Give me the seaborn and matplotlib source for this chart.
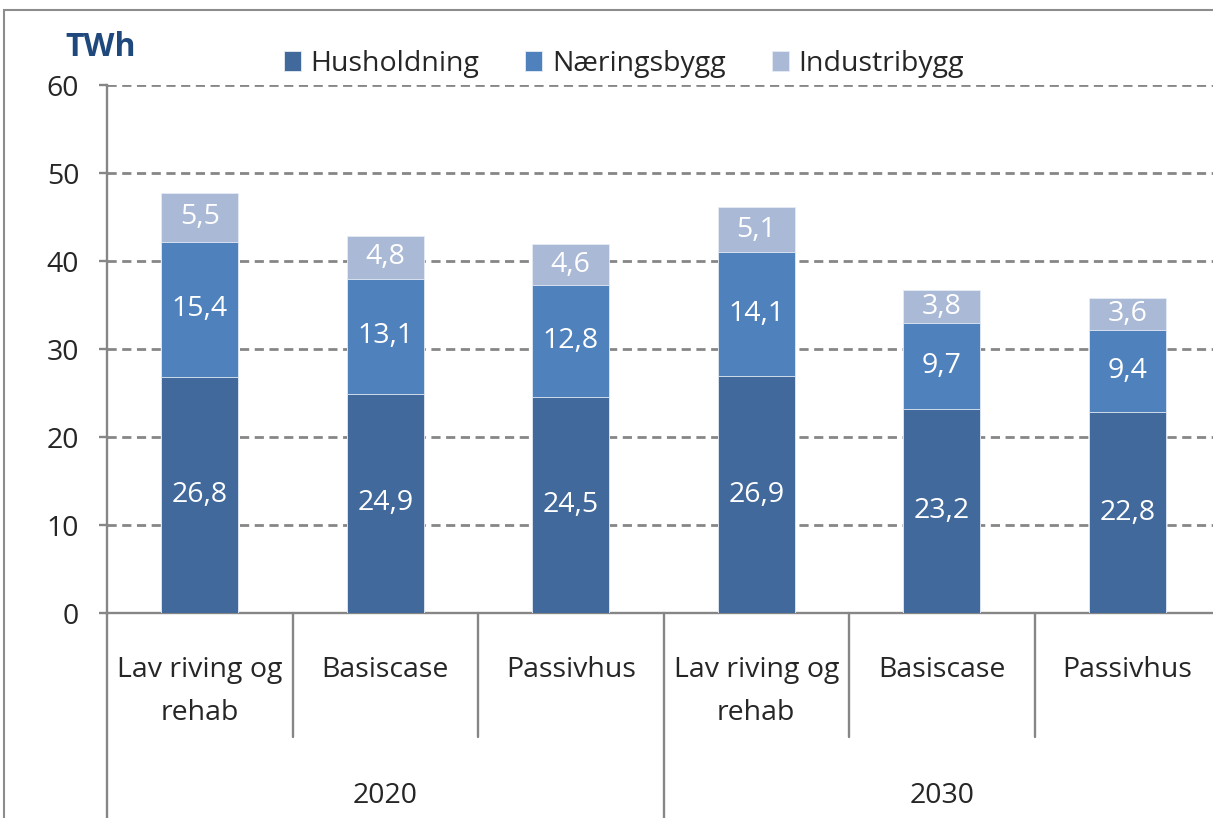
import matplotlib
matplotlib.use("Agg")
import matplotlib.pyplot as plt
from matplotlib.patches import Rectangle
import numpy as np
import pandas as pd
import seaborn as sns

# ---- data ----
years = ["2020", "2030"]
scenarios = ["Lav riving og\nrehab", "Basiscase", "Passivhus"]
husholdning = [26.8, 24.9, 24.5, 26.9, 23.2, 22.8]
naeringsbygg = [15.4, 13.1, 12.8, 14.1, 9.7, 9.4]
industribygg = [5.5, 4.8, 4.6, 5.1, 3.8, 3.6]
series_names = ["Husholdning", "Næringsbygg", "Industribygg"]
colors = ["#41699B", "#4F81BD", "#AAB9D6"]
y_ticks = [0, 10, 20, 30, 40, 50, 60]
unit_label = "TWh"

sns.set_style("white")
plt.rcParams["font.family"] = ["Open Sans", "DejaVu Sans"]

FS = 20.5

ids = [f"{y}|{s}" for y in years for s in scenarios]
df = pd.DataFrame({
    "id": ids,
    "hus": husholdning,
    "nae": naeringsbygg,
    "ind": industribygg,
})
df["c1"] = df["hus"]
df["c2"] = df["hus"] + df["nae"]
df["c3"] = df["c2"] + df["ind"]

W, H = 1213, 818
fig = plt.figure(figsize=(W / 100, H / 100), dpi=100)
ax_left, ax_right = 107, 1220
ax_top, ax_bot = 85, 613
ax = fig.add_axes([ax_left / W, 1 - ax_bot / H, (ax_right - ax_left) / W, (ax_bot - ax_top) / H])

bw = 0.415
for col, name, c in [("c3", series_names[2], colors[2]),
                     ("c2", series_names[1], colors[1]),
                     ("c1", series_names[0], colors[0])]:
    sns.barplot(data=df, x="id", y=col, order=ids, color=c, width=bw,
                errorbar=None, edgecolor="#E6ECF5", linewidth=0.6,
                saturation=1, label=name, ax=ax, zorder=3)

h, l = ax.get_legend_handles_labels()
if ax.get_legend() is not None:
    ax.get_legend().remove()

ax.set_xlim(-0.5, len(ids) - 0.5)
ax.set_ylim(0, 60)
ax.set_yticks(y_ticks)
ax.set_yticklabels([str(t) for t in y_ticks])
ax.set_xticks([])
ax.set_xlabel("")
ax.set_ylabel("")

gray = "#868686"
for t in y_ticks[1:]:
    ax.axhline(t, color=gray, lw=2.0, ls=(0, (3.3, 2.0)), zorder=1)

for s in ["top", "right"]:
    ax.spines[s].set_visible(False)
for s in ["left", "bottom"]:
    ax.spines[s].set_color(gray)
    ax.spines[s].set_linewidth(1.7)
ax.tick_params(axis="y", direction="out", length=6, width=1.7, color=gray,
               pad=14, labelsize=FS, left=True)

# data labels
for i in range(len(ids)):
    segs = [(0, husholdning[i]),
            (husholdning[i], naeringsbygg[i]),
            (husholdning[i] + naeringsbygg[i], industribygg[i])]
    for b, v in segs:
        ax.text(i, b + v / 2, f"{v:.1f}".replace(".", ","), ha="center", va="center",
                color="white", fontsize=FS, zorder=5)

# hierarchical x axis
px = (ax_bot - ax_top)
def ay(ypix):
    return -(ypix - ax_bot) / px

tr = ax.get_xaxis_transform()
for k in range(len(ids) + 1):
    x = k - 0.5
    yend = 830 if k % 3 == 0 else 737
    ax.plot([x, x], [0, ay(yend)], color=gray, lw=1.7, transform=tr, clip_on=False)

for i, y in enumerate(years):
    for j, s in enumerate(scenarios):
        k = i * 3 + j
        for n, line in enumerate(s.split("\n")):
            ax.text(k, ay(670 + 43 * n), line, ha="center", va="center",
                    fontsize=FS, transform=tr)
    ax.text(i * 3 + 1, ay(796), y, ha="center", va="center", fontsize=FS, transform=tr)

# legend
order = [l.index(n) for n in series_names]
fig.legend([h[o] for o in order], [l[o] for o in order], loc="center",
           bbox_to_anchor=(624 / W, 1 - 64 / H), ncol=3, frameon=False,
           fontsize=FS, handlelength=0.6, handleheight=0.75, handletextpad=0.35,
           columnspacing=1.6)

fig.text(65 / W, 1 - 47 / H, unit_label, ha="left", va="center", fontsize=23,
         fontweight="bold", color="#1F497D")

# outer border
fig.add_artist(Rectangle((4 / W, -0.1), 1.2, 1 - 10 / H + 0.1, transform=fig.transFigure,
                         fill=False, edgecolor="#8C8C8C", lw=1.5))

fig.savefig("out.png", dpi=100)
